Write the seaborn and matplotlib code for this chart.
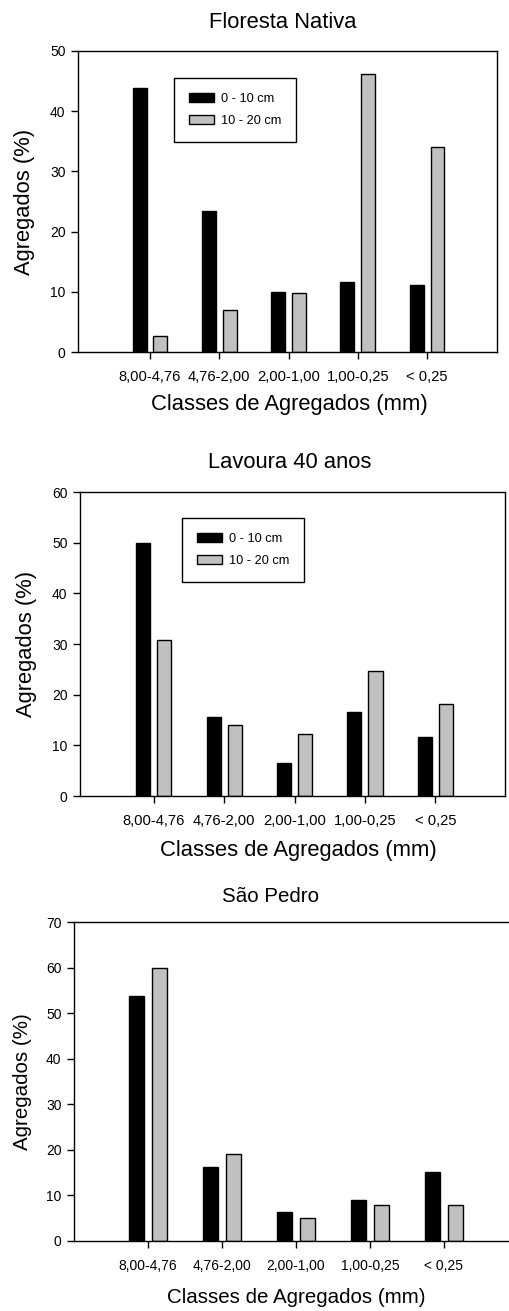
import numpy as np
import pandas as pd
import matplotlib
matplotlib.use("Agg")
import matplotlib.pyplot as plt
import seaborn as sns

sns.set_style("white")
plt.rcParams['font.family'] = ['Liberation Sans', 'DejaVu Sans']
plt.rcParams['text.color'] = 'black'
plt.rcParams['axes.labelcolor'] = 'black'
plt.rcParams['xtick.color'] = 'black'
plt.rcParams['ytick.color'] = 'black'

classes = ["8,00-4,76", "4,76-2,00", "2,00-1,00", "1,00-0,25", "< 0,25"]
camadas = ["0 - 10 cm", "10 - 20 cm"]

floresta_0_10 = [43.8, 23.4, 9.9, 11.6, 11.2]
floresta_10_20 = [2.7, 6.9, 9.8, 46.2, 34.1]
lavoura_0_10 = [49.9, 15.6, 6.5, 16.6, 11.6]
lavoura_10_20 = [30.7, 14.1, 12.3, 24.7, 18.1]
saopedro_0_10 = [53.7, 16.2, 6.3, 8.9, 15.2]
saopedro_10_20 = [60.0, 19.0, 5.1, 8.0, 7.8]

titles = ["Floresta Nativa", "Lavoura 40 anos", "São Pedro"]
ymax = [50, 60, 70]

W, H = 509, 1311
fig = plt.figure(figsize=(W / 100, H / 100), dpi=100)


def make_df(a, b):
    return pd.DataFrame({
        "classe": classes * 2,
        "camada": [camadas[0]] * 5 + [camadas[1]] * 5,
        "valor": a + b,
    })


# pixel boxes: left, right, top, bottom
boxes = [(78, 497, 51, 352), (80, 505, 492, 796), (74, 518, 922, 1241)]
xlims = [(-1.04, 5.01), (-1.047, 4.99), (-1.0, 5.0)]
title_pos = [(283, 23), (290, 463), (270, 897)]
ylab_x = [-0.1265, -0.125, -0.117]
xlab_pos = [(0.504, -0.176), (0.515, -0.178), (0.5, -0.176)]
label_fs = [15.8, 15.8, 14.8]
xtick_fs = [10.6, 10.6, 10.0]
ytick_fs = [10.0, 10.0, 10.0]
legend_pos = [(0.229, 0.910), (0.24, 0.914), None]

dfs = [make_df(floresta_0_10, floresta_10_20),
       make_df(lavoura_0_10, lavoura_10_20),
       make_df(saopedro_0_10, saopedro_10_20)]

for i, df in enumerate(dfs):
    l, r, t, b = boxes[i]
    ax = fig.add_axes([l / W, (H - b) / H, (r - l) / W, (b - t) / H])
    sns.barplot(data=df, x="classe", y="valor", hue="camada",
                palette=["black", "#c0c0c0"], width=0.6, gap=0.333,
                edgecolor="black", linewidth=1.0, ax=ax, legend=True)
    ax.set_xlim(*xlims[i])
    ax.set_ylim(0, ymax[i])
    ax.set_yticks(np.arange(0, ymax[i] + 1, 10))
    for s in ax.spines.values():
        s.set_visible(True)
        s.set_color("black")
        s.set_linewidth(1.0)
    ax.tick_params(axis="both", direction="out", length=5, width=1.0,
                   color="black", left=True, bottom=True)
    ax.tick_params(axis="x", labelsize=xtick_fs[i], pad=8)
    ax.tick_params(axis="y", labelsize=ytick_fs[i], pad=4)

    ax.set_ylabel("Agregados (%)", fontsize=label_fs[i], va="center")
    ax.yaxis.set_label_coords(ylab_x[i], 0.5)
    ax.set_xlabel("Classes de Agregados (mm)", fontsize=label_fs[i], va="center")
    ax.xaxis.set_label_coords(*xlab_pos[i])

    fig.text(title_pos[i][0] / W, 1 - title_pos[i][1] / H, titles[i],
             fontsize=label_fs[i], ha="center", va="center")

    if legend_pos[i] is not None:
        leg = ax.legend(loc="upper left", bbox_to_anchor=legend_pos[i],
                        borderaxespad=0, fontsize=9.2, frameon=True,
                        fancybox=False, edgecolor="black", framealpha=1,
                        handlelength=2.0, handleheight=0.7, handletextpad=0.55,
                        borderpad=1.15, labelspacing=0.8, title=None)
        leg.get_frame().set_linewidth(1.0)
    else:
        ax.get_legend().remove()

fig.savefig("out.png", dpi=100)
